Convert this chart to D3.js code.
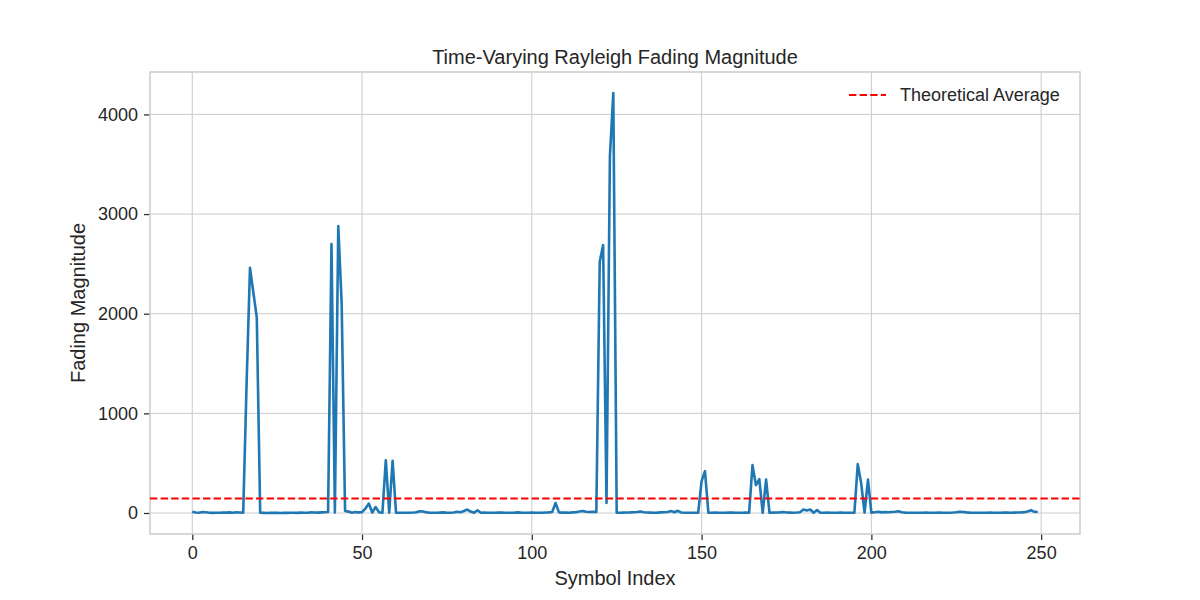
<!DOCTYPE html>
<html>
<head>
<meta charset="utf-8">
<script src="https://cdn.jsdelivr.net/npm/d3@7"></script>
<style>
  body { margin: 0; background: #fff; }
  svg { display: block; }
</style>
</head>
<body>
<div id="my_dataviz"></div>
<script>
var titleText = "Time-Varying Rayleigh Fading Magnitude";
var xScaleTitle = "Symbol Index";
var yScaleTitle = "Fading Magnitude";
var legendLabel = "Theoretical Average";

// fading magnitude for each symbol index 0..249
var magnitude = [
  13, 5, 3, 10, 8, 2, 1, 2, 3, 5,
  4, 6, 3, 8, 5, 4, 1300, 2460, 2210, 1960,
  2, 1, 0, 1, 2, 1, 0, 2, 1, 3,
  2, 1, 4, 2, 3, 6, 5, 4, 6, 8,
  10, 2700, 5, 2880, 2100, 20, 14, 3, 10, 6,
  8, 45, 95, 5, 60, 8, 2, 530, 3, 525,
  4, 3, 2, 2, 3, 5, 8, 18, 15, 6,
  3, 2, 2, 4, 6, 3, 2, 5, 12, 8,
  20, 35, 15, 2, 28, 3, 4, 3, 2, 3,
  5, 4, 3, 2, 3, 4, 6, 3, 2, 3,
  4, 3, 2, 3, 5, 6, 10, 100, 6, 4,
  5, 3, 6, 8, 15, 20, 12, 10, 12, 10,
  2520, 2690, 100, 3580, 4215, 2, 3, 4, 5, 6,
  8, 10, 15, 8, 5, 4, 3, 4, 6, 8,
  10, 20, 8, 22, 5, 3, 2, 2, 2, 2,
  320, 420, 2, 3, 4, 3, 2, 3, 4, 5,
  3, 2, 3, 4, 3, 480, 280, 340, 2, 335,
  3, 4, 5, 6, 10, 5, 4, 3, 5, 8,
  35, 25, 35, 3, 30, 2, 3, 4, 3, 2,
  3, 4, 3, 2, 3, 3, 490, 300, 3, 335,
  4, 8, 12, 6, 10, 8, 10, 12, 18, 8,
  4, 3, 2, 3, 2, 3, 4, 3, 2, 3,
  4, 3, 2, 3, 5, 8, 12, 10, 6, 4,
  3, 2, 3, 2, 3, 4, 3, 2, 3, 4,
  5, 3, 4, 5, 6, 8, 15, 28, 12, 10
];
var theoreticalAverage = 145;

var xTicks = [0, 50, 100, 150, 200, 250];
var yTicks = [0, 1000, 2000, 3000, 4000];

var fontFamily = "'Liberation Sans', Arial, sans-serif";
var textColor = "#262626";
var gridColor = "#cccccc";

// set the dimensions and margins of the graph
var margin = {top: 72, right: 120, bottom: 66, left: 150},
    width = 1200 - margin.left - margin.right,
    height = 600 - margin.top - margin.bottom;

var svg = d3.select("#my_dataviz")
  .append("svg")
    .attr("width", 1200)
    .attr("height", 600)
    .attr("font-family", fontFamily)
  .append("g")
    .attr("transform", "translate(" + margin.left + "," + margin.top + ")");

// ---------------------------//
//       AXIS  AND SCALE      //
// ---------------------------//

// matplotlib style 5% padding around the data
var n = magnitude.length;
var xPad = (n - 1) * 0.05;
var x = d3.scaleLinear()
  .domain([-xPad, n - 1 + xPad])
  .range([0, width]);

var yMin = d3.min(magnitude), yMax = d3.max(magnitude);
var yPad = (yMax - yMin) * 0.05;
var y = d3.scaleLinear()
  .domain([yMin - yPad, yMax + yPad])
  .range([height, 0]);

// grid lines
svg.append("g")
  .selectAll("line")
  .data(xTicks)
  .enter()
  .append("line")
    .attr("x1", function(d) { return x(d); })
    .attr("x2", function(d) { return x(d); })
    .attr("y1", 0)
    .attr("y2", height)
    .attr("stroke", gridColor)
    .attr("stroke-width", 1);

svg.append("g")
  .selectAll("line")
  .data(yTicks)
  .enter()
  .append("line")
    .attr("x1", 0)
    .attr("x2", width)
    .attr("y1", function(d) { return y(d); })
    .attr("y2", function(d) { return y(d); })
    .attr("stroke", gridColor)
    .attr("stroke-width", 1);

// X axis
var xAxis = svg.append("g")
  .attr("transform", "translate(0," + height + ")")
  .call(d3.axisBottom(x).tickValues(xTicks).tickFormat(d3.format("d")).tickSize(6).tickPadding(6));

// Y axis
var yAxis = svg.append("g")
  .call(d3.axisLeft(y).tickValues(yTicks).tickFormat(d3.format("d")).tickSize(6).tickPadding(6));

[xAxis, yAxis].forEach(function(ax) {
  ax.select(".domain").remove();
  ax.selectAll(".tick line")
    .attr("stroke", "#333333")
    .attr("stroke-width", 1.3);
  ax.selectAll(".tick text")
    .attr("fill", textColor)
    .attr("font-family", fontFamily)
    .style("font-size", "18px");
});

// frame
svg.append("rect")
  .attr("x", 0)
  .attr("y", 0)
  .attr("width", width)
  .attr("height", height)
  .attr("fill", "none")
  .attr("stroke", gridColor)
  .attr("stroke-width", 1.5);

// ---------------------------//
//       LINES                //
// ---------------------------//

var line = d3.line()
  .x(function(d, i) { return x(i); })
  .y(function(d) { return y(d); });

svg.append("path")
  .datum(magnitude)
  .attr("fill", "none")
  .attr("stroke", "#1f77b4")
  .attr("stroke-width", 2.6)
  .attr("stroke-linejoin", "round")
  .attr("d", line);

svg.append("line")
  .attr("x1", 0)
  .attr("x2", width)
  .attr("y1", y(theoreticalAverage))
  .attr("y2", y(theoreticalAverage))
  .attr("stroke", "#ff0000")
  .attr("stroke-width", 2)
  .style("stroke-dasharray", "7.4,3.2");

// ---------------------------//
//       TEXTS                //
// ---------------------------//

svg.append("text")
  .attr("x", width / 2)
  .attr("y", -8)
  .attr("text-anchor", "middle")
  .attr("fill", textColor)
  .style("font-size", "20px")
  .text(titleText);

svg.append("text")
  .attr("x", width / 2)
  .attr("y", height + 51)
  .attr("text-anchor", "middle")
  .attr("fill", textColor)
  .style("font-size", "20px")
  .text(xScaleTitle);

svg.append("text")
  .attr("transform", "translate(" + (-65) + "," + (height / 2) + ") rotate(-90)")
  .attr("text-anchor", "middle")
  .attr("fill", textColor)
  .style("font-size", "20px")
  .text(yScaleTitle);

// ---------------------------//
//       LEGEND               //
// ---------------------------//

var legend = svg.append("g")
  .attr("transform", "translate(" + (width - 231) + ",23)");

legend.append("line")
  .attr("x1", 0)
  .attr("x2", 37)
  .attr("y1", 0)
  .attr("y2", 0)
  .attr("stroke", "#ff0000")
  .attr("stroke-width", 2)
  .style("stroke-dasharray", "7.4,3.2");

legend.append("text")
  .attr("x", 51)
  .attr("y", 0)
  .attr("dy", "0.35em")
  .attr("fill", textColor)
  .style("font-size", "18px")
  .text(legendLabel);
</script>
</body>
</html>
